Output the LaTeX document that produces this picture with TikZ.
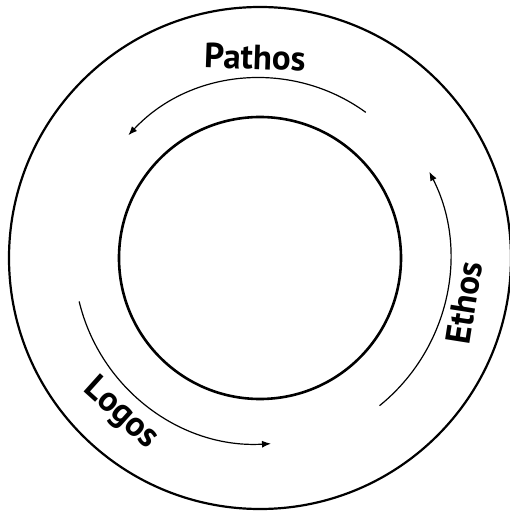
\documentclass[tikz,border=0pt]{standalone}
\usepackage{fontspec}
\setmainfont{PT Sans}
\usetikzlibrary{arrows.meta}
\begin{document}
\begin{tikzpicture}[x=1pt,y=1pt,
  ring/.style={draw=black, circle, inner sep=0pt},
  flow/.style={line width=1.2pt, -{Latex[length=9pt,width=7pt]}},
  lbl/.style={font=\fontsize{35}{36}\selectfont\bfseries, inner sep=0pt}]
\useasboundingbox (0,0) rectangle (510,515);
\coordinate (c) at (260,257);
\node[ring, line width=2.2pt, minimum size=502pt] (outer) at (c) {};
\node[ring, line width=2.6pt, minimum size=282pt] (inner) at (c) {};
% arrow start points
\coordinate (ps) at ([shift={(c)}]54:180);
\coordinate (es) at ([shift={(c)}]-51:190);
\coordinate (ls) at ([shift={(c)}]193.5:186);
\draw[flow] (ps) arc[start angle=54, end angle=137, radius=180];
\draw[flow] (es) arc[start angle=-51, end angle=27, radius=190];
\draw[flow] (ls) arc[start angle=193.5, end angle=273.4, radius=186];
% labels
\node[lbl, rotate=-2] (pathos) at (255,458) {Pathos};
\node[lbl, rotate=81] (ethos) at (464,212) {Ethos};
\node[lbl, rotate=-42] (logos) at (121,101) {Logos};
\end{tikzpicture}
\end{document}
